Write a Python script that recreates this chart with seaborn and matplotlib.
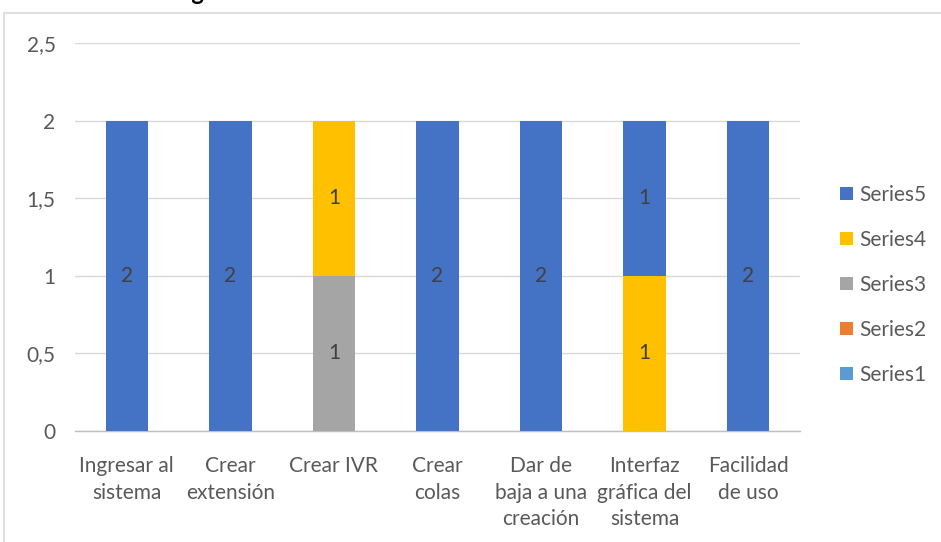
import matplotlib
matplotlib.use("Agg")
import matplotlib.pyplot as plt
from matplotlib.patches import Patch, Rectangle
import numpy as np
import pandas as pd
import seaborn as sns

categories = [
    "Ingresar al\nsistema",
    "Crear\nextensión",
    "Crear IVR",
    "Crear\ncolas",
    "Dar de\nbaja a una\ncreación",
    "Interfaz\ngráfica del\nsistema",
    "Facilidad\nde uso",
]
series1 = [0, 0, 0, 0, 0, 0, 0]
series2 = [0, 0, 0, 0, 0, 0, 0]
series3 = [0, 0, 1, 0, 0, 0, 0]
series4 = [0, 0, 1, 0, 0, 1, 0]
series5 = [2, 2, 0, 2, 2, 1, 2]
series_names = ["Series1", "Series2", "Series3", "Series4", "Series5"]
series_colors = ["#5B9BD5", "#ED7D31", "#A5A5A5", "#FFC000", "#4472C4"]
y_ticks = [0, 0.5, 1, 1.5, 2, 2.5]
y_tick_labels = ["0", "0,5", "1", "1,5", "2", "2,5"]
title = "Figura 3 Gráfico estadístico de la encuesta al usuario final"

sns.set_theme(style="white")
plt.rcParams["font.family"] = ["Lato", "DejaVu Sans"]

text_color = "#595959"
fs = 15
W, H = 941, 542
fig = plt.figure(figsize=(W / 100, H / 100), dpi=100)
ax = fig.add_axes([75 / W, (H - 431) / H, (800 - 75) / W, (431 - 43) / H])

# outer chart frame
fig.patches.append(Rectangle((4 / W, -0.05), 1.2, (H - 13) / H + 0.05,
                             transform=fig.transFigure, fill=False,
                             edgecolor="#D9D9D9", linewidth=1.2))

data = [series1, series2, series3, series4, series5]
cum = np.cumsum(np.array(data, dtype=float), axis=0)

# stacked bars: draw cumulative totals from the top series down
for i in range(len(data) - 1, -1, -1):
    df = pd.DataFrame({"cat": categories, "val": cum[i]})
    sns.barplot(data=df, x="cat", y="val", color=series_colors[i],
                saturation=1, width=0.41, ax=ax, linewidth=0, zorder=3)

# segment value labels
for i, vals in enumerate(data):
    base = cum[i] - np.array(vals)
    for j, v in enumerate(vals):
        if v:
            ax.text(j, base[j] + v / 2, f"{v:g}", ha="center", va="center",
                    fontsize=fs, color="#404040", zorder=5)

ax.set_ylim(0, 2.5)
ax.set_xlim(-0.5, len(categories) - 0.5)
ax.set_yticks(y_ticks)
ax.set_yticklabels(y_tick_labels)
ax.set_xlabel("")
ax.set_ylabel("")
ax.grid(axis="y", color="#D9D9D9", linewidth=1, zorder=0)
ax.set_axisbelow(True)
for side in ["left", "right", "top"]:
    ax.spines[side].set_visible(False)
ax.spines["bottom"].set_color("#BFBFBF")
ax.spines["bottom"].set_linewidth(1)
ax.tick_params(axis="y", length=0, pad=14, labelsize=fs, labelcolor=text_color)
ax.tick_params(axis="x", length=0, pad=18, labelsize=fs, labelcolor=text_color)
for lab in ax.get_xticklabels():
    lab.set_linespacing(1.42)
    lab.set_verticalalignment("top")

handles = [Patch(facecolor=series_colors[i], edgecolor="none", label=series_names[i])
           for i in range(len(series_names) - 1, -1, -1)]
fig.legend(handles=handles, loc="upper left", bbox_to_anchor=(840 / W, (H - 185) / H),
           frameon=False, fontsize=fs, labelcolor=text_color,
           borderpad=0, borderaxespad=0,
           handlelength=0.62, handleheight=0.62, handletextpad=0.3,
           labelspacing=1.2)

fig.text(473 / W, 1.0 - 0.5 / H, title, ha="center", va="baseline", fontsize=17,
         fontweight="bold", color="#000000")

fig.savefig("out.png", dpi=100)
